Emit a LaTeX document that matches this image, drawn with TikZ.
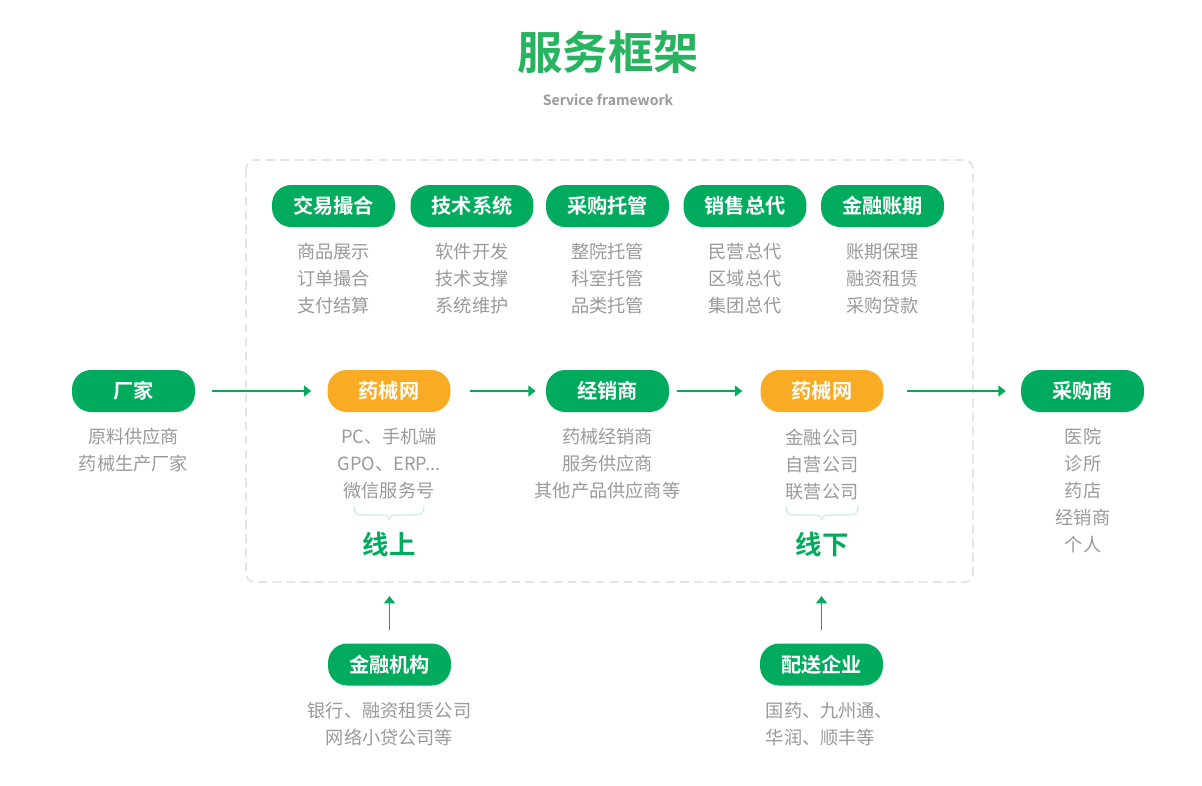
\documentclass[tikz,border=0pt]{standalone}
\usepackage{fontspec}
\setmainfont{Noto Sans CJK SC}[BoldFont={Noto Sans CJK SC Bold}]
\usepackage{color}
\definecolor{pillgreen}{HTML}{00AB5D}
\definecolor{pillorange}{HTML}{F8AB23}
\definecolor{titlegreen}{HTML}{27B35F}
\definecolor{itemgray}{HTML}{9A9A9A}
\definecolor{framegray}{HTML}{E4E6E4}
\definecolor{bracegreen}{HTML}{C5EEDB}
\usetikzlibrary{arrows.meta}
\tikzset{
  pill/.style={draw=none, fill=pillgreen, text=white, rounded corners=10.9pt,
    minimum width=3.48cm*0.7067, minimum height=0.84cm, inner sep=0pt,
    font=\fontsize{11.5}{14}\selectfont\bfseries},
  pillorg/.style={pill, fill=pillorange},
  items/.style={text=itemgray, align=center, inner sep=0pt,
    font=\fontsize{10.35}{15.36}\selectfont},
  flow/.style={color=pillgreen, line width=1.05pt, -{Triangle[length=4.2pt,width=6.2pt]}},
  tagtext/.style={text=pillgreen, inner sep=0pt, font=\fontsize{15}{18}\selectfont\bfseries},
  bracket/.style={color=bracegreen, line width=0.6pt},
}
\begin{document}
\begin{tikzpicture}[%
      x=0.02cm,y=-0.02cm,
      ]
      \useasboundingbox (0,0) rectangle (1202,785);
      \fill [white] (0,0) rectangle (1202,785);

      \node [text=titlegreen, inner sep=0pt, font=\fontsize{25.8}{32}\selectfont\bfseries] (title) at (608,52) {服务框架};
      \node [text=itemgray, inner sep=0pt, font=\fontsize{8}{10}\selectfont\bfseries] (subtitle) at (608,100) {Service framework};

      \draw [color=framegray, line width=1.1pt, dashed, dash pattern=on 5pt off 3pt, rounded corners=5pt] (246,160) rectangle (973,582);

      \node [pill] (match) at (333.5,206) {交易撮合};
      \node [pill] (tech) at (472,206) {技术系统};
      \node [pill] (trust) at (607.5,206) {采购托管};
      \node [pill] (agent) at (745,206) {销售总代};
      \node [pill] (fin) at (882.5,206) {金融账期};

      \node [items] (matchtxt) at (333.5,278.5) {商品展示\\订单撮合\\支付结算};
      \node [items] (techtxt) at (472,278.5) {软件开发\\技术支撑\\系统维护};
      \node [items] (trusttxt) at (607.5,278.5) {整院托管\\科室托管\\品类托管};
      \node [items] (agenttxt) at (745,278.5) {民营总代\\区域总代\\集团总代};
      \node [items] (fintxt) at (882.5,278.5) {账期保理\\融资租赁\\采购贷款};

      \node [pill] (maker) at (133.5,391) {厂家};
      \node [pillorg] (online) at (389,391) {药械网};
      \node [pill] (dealer) at (607.5,391) {经销商};
      \node [pillorg] (offline) at (822,391) {药械网};
      \node [pill] (buyer) at (1082.5,391) {采购商};

      \node [items] (makertxt) at (133.5,450.5) {原料供应商\\药械生产厂家};
      \node [items] (onlinetxt) at (389,464) {PC、手机端\\GPO、ERP...\\微信服务号};
      \node [items] (dealertxt) at (607.5,463.5) {药械经销商\\服务供应商\\其他产品供应商等};
      \node [items] (offlinetxt) at (822,465) {金融公司\\自营公司\\联营公司};
      \node [items] (buyertxt) at (1083,490.5) {医院\\诊所\\药店\\经销商\\个人};

      \draw [bracket] (354,506) .. controls (354,512) and (356,515) .. (362,515) -- (383,515) .. controls (387,515) and (389,517) .. (389,520) .. controls (389,517) and (391,515) .. (395,515) -- (416,515) .. controls (422,515) and (424,512) .. (424,506);
      \draw [bracket] (786,506) .. controls (786,512) and (788,515) .. (794,515) -- (816,515) .. controls (820,515) and (822,517) .. (822,520) .. controls (822,517) and (824,515) .. (828,515) -- (850,515) .. controls (856,515) and (858,512) .. (858,506);

      \node [tagtext] (ontag) at (389,544) {线上};
      \node [tagtext] (offtag) at (822,544) {线下};

      \node [pill] (bank) at (389.5,664.5) {金融机构};
      \node [pill] (ship) at (821.5,664.5) {配送企业};

      \node [items] (banktxt) at (389.5,724.5) {银行、融资租赁公司\\网络小贷公司等};
      \node [items, align=left, anchor=west] (shiptxt) at (765.5,724.5) {国药、九州通、\\华润、顺丰等};

      \coordinate (onend) at (389.5,596);
      \coordinate (offend) at (821.5,596);

      \draw [flow, shorten <=9.6pt, shorten >=9.1pt] (maker) -- (online);
      \draw [flow, shorten <=10.8pt, shorten >=5.7pt] (online) -- (dealer);
      \draw [flow, shorten <=4.6pt, shorten >=10.2pt] (dealer) -- (offline);
      \draw [flow, shorten <=13.1pt, shorten >=8.5pt] (offline) -- (buyer);
      \draw [flow, shorten <=7.4pt] (bank) -- (onend);
      \draw [flow, shorten <=7.4pt] (ship) -- (offend);
      \end{tikzpicture}
\end{document}
